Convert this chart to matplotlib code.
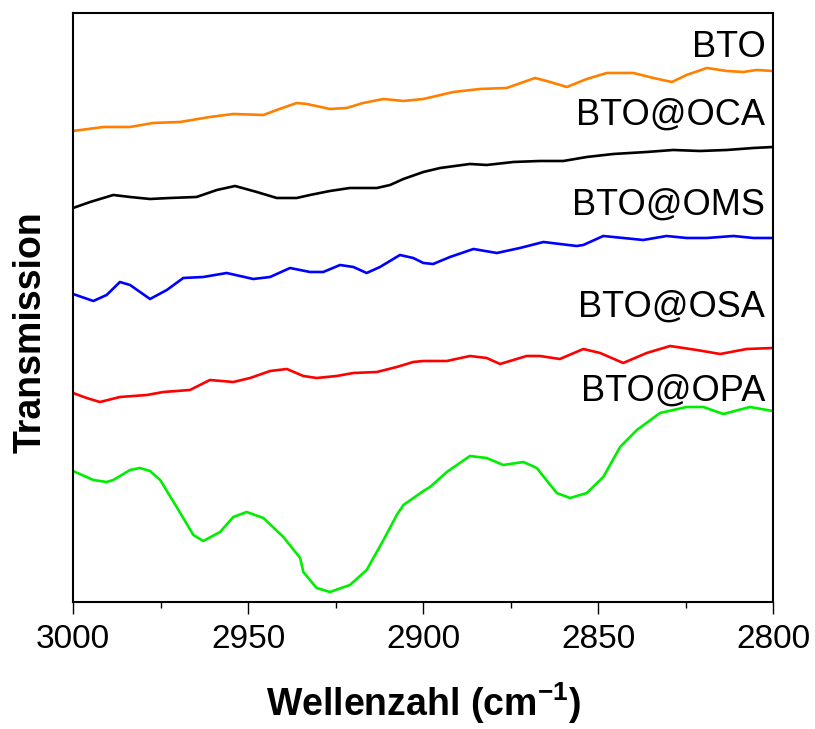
import numpy as np
import matplotlib
matplotlib.use("Agg")
import matplotlib.pyplot as plt

plt.rcParams['font.family'] = ['Liberation Sans', 'DejaVu Sans']
plt.rcParams['mathtext.fontset'] = 'custom'
plt.rcParams['mathtext.rm'] = 'Liberation Sans'
plt.rcParams['mathtext.bf'] = 'Liberation Sans:bold'

# FTIR spectra, C-H stretching region (transmission, offset, arbitrary units)
wn_bto = [3000, 2991.3, 2983.7, 2977.1, 2969.4, 2960.9, 2954.2, 2945.6, 2941.8, 2936.1,
          2933.2, 2926.6, 2921.8, 2917.1, 2911.3, 2905.6, 2899.9, 2891.3, 2883.7, 2876.1,
          2868.0, 2864.7, 2858.9, 2853.2, 2847.5, 2839.9, 2834.2, 2828.9, 2824.7, 2818.9,
          2813.2, 2808.5, 2804.7, 2800]
t_bto = [4.70, 4.74, 4.74, 4.78, 4.79, 4.84, 4.87, 4.86, 4.91, 4.98,
         4.97, 4.92, 4.93, 4.98, 5.02, 5.00, 5.02, 5.09, 5.12, 5.13,
         5.23, 5.20, 5.14, 5.22, 5.28, 5.28, 5.23, 5.19, 5.26, 5.33,
         5.30, 5.29, 5.31, 5.30]

wn_oca = [3000, 2995.1, 2988.5, 2983.7, 2978, 2972.3, 2964.7, 2958.9, 2953.7, 2947.5,
          2941.8, 2936.1, 2932.3, 2926.6, 2920.9, 2913.2, 2909.4, 2905.6, 2899.9, 2895.1,
          2886.6, 2881.8, 2874.2, 2866.6, 2859.9, 2853.2, 2845.6, 2836.1, 2828.5, 2820.9,
          2813.2, 2805.6, 2800]
t_oca = [3.93, 3.99, 4.06, 4.04, 4.02, 4.03, 4.04, 4.11, 4.15, 4.09,
         4.03, 4.03, 4.06, 4.10, 4.13, 4.13, 4.16, 4.22, 4.29, 4.33,
         4.37, 4.36, 4.39, 4.40, 4.40, 4.44, 4.47, 4.49, 4.51, 4.50,
         4.51, 4.53, 4.54]

wn_oms = [3000, 2994.2, 2990.4, 2986.6, 2983.7, 2978, 2973.2, 2968.5, 2962.8, 2956.1,
          2948.5, 2943.7, 2938, 2932.3, 2928.5, 2923.7, 2919.9, 2916.1, 2912.3, 2906.6,
          2902.8, 2899.9, 2897.1, 2892.3, 2885.6, 2878.9, 2872.3, 2865.6, 2860.9, 2856.1,
          2854.2, 2848.5, 2842.8, 2837.1, 2830.4, 2824.7, 2818.9, 2811.3, 2805.6, 2800]
t_oms = [3.07, 3.00, 3.06, 3.19, 3.16, 3.02, 3.11, 3.23, 3.24, 3.28,
         3.22, 3.24, 3.33, 3.29, 3.29, 3.36, 3.34, 3.28, 3.34, 3.46,
         3.43, 3.38, 3.37, 3.44, 3.52, 3.48, 3.53, 3.59, 3.57, 3.55,
         3.56, 3.65, 3.63, 3.61, 3.65, 3.63, 3.63, 3.65, 3.63, 3.63]

wn_osa = [3000, 2996.1, 2992.3, 2986.6, 2978.9, 2974.2, 2966.6, 2960.9, 2954.2, 2949.4,
          2943.7, 2938.9, 2934.2, 2930.4, 2924.7, 2919.9, 2913.2, 2907.5, 2902.8, 2899.9,
          2893.2, 2886.6, 2881.8, 2878, 2870.4, 2866.6, 2860.9, 2854.2, 2849.4, 2842.8,
          2836.1, 2829.4, 2821.8, 2815.1, 2807.5, 2800]
t_osa = [2.08, 2.03, 1.99, 2.04, 2.06, 2.09, 2.11, 2.21, 2.19, 2.23,
         2.30, 2.32, 2.25, 2.23, 2.25, 2.28, 2.29, 2.34, 2.39, 2.40,
         2.40, 2.45, 2.43, 2.37, 2.45, 2.45, 2.42, 2.52, 2.48, 2.38,
         2.48, 2.55, 2.51, 2.47, 2.52, 2.53]

wn_opa = [3000, 2994.2, 2990.4, 2988.5, 2983.7, 2980.9, 2978, 2975.1, 2970.4, 2965.6,
          2962.8, 2958, 2954.2, 2950.4, 2945.6, 2939.9, 2935.1, 2934.2, 2930.4, 2926.6,
          2920.9, 2916.1, 2911.3, 2907.5, 2905.6, 2899.9, 2898, 2893.2, 2886.6, 2881.8,
          2877.1, 2871.3, 2867.5, 2861.8, 2858, 2853.2, 2848.5, 2843.7, 2838.9, 2832.3,
          2824.7, 2819.9, 2814.2, 2806.6, 2800]
t_opa = [1.30, 1.21, 1.19, 1.21, 1.31, 1.33, 1.30, 1.21, 0.94, 0.66,
         0.60, 0.69, 0.84, 0.89, 0.83, 0.64, 0.43, 0.29, 0.13, 0.09,
         0.16, 0.31, 0.61, 0.86, 0.96, 1.10, 1.14, 1.29, 1.45, 1.43,
         1.36, 1.39, 1.33, 1.08, 1.03, 1.08, 1.24, 1.54, 1.71, 1.88,
         1.94, 1.94, 1.87, 1.94, 1.90]

names = ['BTO', 'BTO@OCA', 'BTO@OMS', 'BTO@OSA', 'BTO@OPA']
colors = ['#FF8000', 'black', '#0000FF', '#FF0000', '#00EE00']
series = [(wn_bto, t_bto), (wn_oca, t_oca), (wn_oms, t_oms), (wn_osa, t_osa), (wn_opa, t_opa)]
# label baselines in axes fraction
label_y = [0.925, 0.810, 0.658, 0.485, 0.342]

fig = plt.figure(figsize=(8.15, 7.29), dpi=100)
ax = fig.add_axes([0.0896, 0.1742, 0.8589, 0.8080])

for (x, y), c in zip(series, colors):
    ax.plot(x, y, color=c, lw=1.9, solid_joinstyle='round')

for name, ly in zip(names, label_y):
    ax.text(0.989, ly, name, transform=ax.transAxes, ha='right', va='baseline',
            fontsize=26)

ax.set_xlim(3000, 2800)
ax.set_ylim(-0.01, 5.88)
ax.set_xticks(np.arange(3000, 2799, -50))
ax.set_xticks(np.arange(2975, 2800, -50), minor=True)
ax.set_yticks([])
ax.tick_params(axis='x', which='major', direction='out', length=8.5, width=1.0,
               labelsize=24, pad=7)
ax.tick_params(axis='x', which='minor', direction='out', length=4.3, width=1.0)
ax.tick_params(top=False, right=False)
for sp in ax.spines.values():
    sp.set_linewidth(1.5)

fig.text(423 / 815, 0.018, r'Wellenzahl (cm$^{\mathbf{-1}}$)', ha='center',
         va='baseline', fontsize=27, fontweight='bold')
fig.text(0.038, 0.5446, 'Transmission', rotation=90, ha='center', va='center',
         fontsize=27, fontweight='bold')

fig.savefig('out.png', dpi=100, facecolor='white')
